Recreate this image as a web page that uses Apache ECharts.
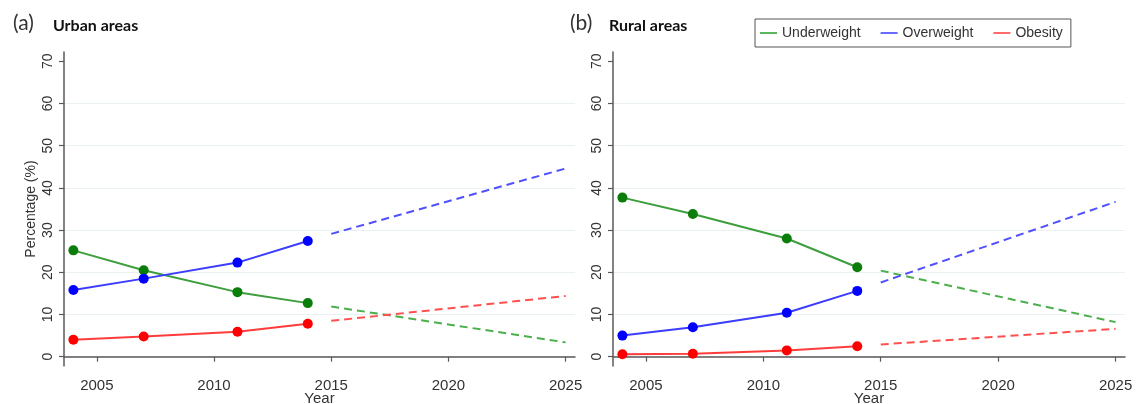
<!DOCTYPE html>
<html>
<head>
<meta charset="utf-8">
<script src="https://cdn.jsdelivr.net/npm/echarts@6/dist/echarts.min.js"></script>
<style>
  html, body { margin: 0; padding: 0; background: #fff; }
  #chart { width: 1137px; height: 404px; }
</style>
</head>
<body>
<div id="chart"></div>
<script>
// Survey rounds and projection end points
const surveyYears = [2004, 2007, 2011, 2014];
const projectionYears = [2015, 2025];

// Urban areas (%)
const urbanUnderweight = [25.2, 20.5, 15.3, 12.7];
const urbanOverweight = [15.8, 18.5, 22.3, 27.4];
const urbanObesity = [4.0, 4.8, 5.9, 7.8];
const urbanUnderweightProj = [11.9, 3.4];
const urbanOverweightProj = [29.1, 44.6];
const urbanObesityProj = [8.5, 14.4];

// Rural areas (%)
const ruralUnderweight = [37.7, 33.8, 28.0, 21.2];
const ruralOverweight = [5.0, 7.0, 10.4, 15.6];
const ruralObesity = [0.6, 0.7, 1.5, 2.5];
const ruralUnderweightProj = [20.4, 8.2];
const ruralOverweightProj = [17.6, 36.7];
const ruralObesityProj = [2.9, 6.6];

// Axis ticks
const yearTicks = [2005, 2010, 2015, 2020, 2025];
const percentTicks = [0, 10, 20, 30, 40, 50, 60, 70];
const gridLineValues = [0, 10, 20, 30, 40, 50, 60];

const categories = ['Underweight', 'Overweight', 'Obesity'];

const colors = {
  Underweight: { marker: '#0a7d0a', line: '#3c9e3c', dash: '#4caf4c', legend: '#5cb85c' },
  Overweight:  { marker: '#0000ff', line: '#3c3cff', dash: '#5050ff', legend: '#6a6aff' },
  Obesity:     { marker: '#ff0000', line: '#ff3c3c', dash: '#ff5050', legend: '#ff6a6a' }
};

const panels = [
  { observed: [urbanUnderweight, urbanOverweight, urbanObesity],
    projected: [urbanUnderweightProj, urbanOverweightProj, urbanObesityProj] },
  { observed: [ruralUnderweight, ruralOverweight, ruralObesity],
    projected: [ruralUnderweightProj, ruralOverweightProj, ruralObesityProj] }
];

const pairs = (xs, ys) => xs.map((x, i) => [x, ys[i]]);
const axisColor = '#5a5a5a';
const textColor = '#333';
const labelFont = "'Liberation Sans', Arial, sans-serif";

const series = [];
panels.forEach((panel, p) => {
  // light horizontal reference lines behind the data
  series.push({
    type: 'line', xAxisIndex: p, yAxisIndex: p, data: [], z: 0,
    silent: true,
    markLine: {
      silent: true, symbol: 'none', animation: false, z: 0,
      label: { show: false },
      lineStyle: { color: '#e9f1f2', width: 1.2, type: 'solid' },
      data: gridLineValues.map(v => ({ yAxis: v }))
    }
  });
  categories.forEach((name, k) => {
    const c = colors[name];
    series.push({
      name, type: 'line', xAxisIndex: p, yAxisIndex: p,
      data: pairs(surveyYears, panel.observed[k]),
      symbol: 'circle', symbolSize: 10,
      itemStyle: { color: c.marker },
      lineStyle: { color: c.line, width: 2 },
      animation: false, z: 3
    });
    series.push({
      name, type: 'line', xAxisIndex: p, yAxisIndex: p,
      data: pairs(projectionYears, panel.projected[k]),
      symbol: 'none',
      lineStyle: { color: c.dash, width: 2, type: [8, 5] },
      animation: false, z: 2
    });
  });
});

const makeXAxis = (gridIndex) => ({
  type: 'value', gridIndex, min: 2003.6, max: 2025.4,
  name: 'Year', nameLocation: 'middle', nameGap: 25, nameMoveOverlap: false,
  nameTextStyle: { color: textColor, fontSize: 15, fontFamily: labelFont },
  axisLine: { show: true, lineStyle: { color: axisColor, width: 1.5 } },
  axisTick: { show: true, customValues: yearTicks, length: 5, lineStyle: { color: axisColor, width: 1.2 } },
  axisLabel: { customValues: yearTicks, formatter: v => String(v), margin: 12,
               color: textColor, fontSize: 15, fontFamily: labelFont },
  splitLine: { show: false }
});

const makeYAxis = (gridIndex, withName) => ({
  type: 'value', gridIndex, min: -2.2, max: 72.2,
  name: withName ? 'Percentage (%)' : '', nameLocation: 'middle', nameGap: 26, nameMoveOverlap: false,
  nameTextStyle: { color: textColor, fontSize: 14, fontFamily: labelFont },
  axisLine: { show: true, lineStyle: { color: axisColor, width: 1.5 } },
  axisTick: { show: true, customValues: percentTicks, length: 5, lineStyle: { color: axisColor, width: 1.2 } },
  axisLabel: { customValues: percentTicks, rotate: 90, margin: 9,
               color: textColor, fontSize: 14, fontFamily: labelFont },
  splitLine: { show: false }
});

const option = {
  backgroundColor: '#fff',
  animation: false,
  title: [
    { text: '(a)', left: 8, top: 8, textStyle: { color: '#333', fontSize: 21, fontWeight: 'normal', fontFamily: 'Lato, sans-serif' } },
    { text: 'Urban areas', left: 48, top: 13, textStyle: { color: '#111', fontSize: 16, fontWeight: 'bold', fontFamily: 'Lato, sans-serif' } },
    { text: '(b)', left: 565, top: 8, textStyle: { color: '#333', fontSize: 21, fontWeight: 'normal', fontFamily: 'Lato, sans-serif' } },
    { text: 'Rural areas', left: 604, top: 13, textStyle: { color: '#111', fontSize: 16, fontWeight: 'bold', fontFamily: 'Lato, sans-serif' } }
  ],
  legend: {
    left: 755, top: 19,
    padding: [7, 8, 7, 5],
    borderColor: '#555', borderWidth: 1,
    itemWidth: 17, itemHeight: 2, itemGap: 20,
    icon: 'rect',
    textStyle: { color: textColor, fontSize: 14, fontFamily: labelFont },
    data: categories.map(name => ({ name, itemStyle: { color: colors[name].legend } }))
  },
  grid: [
    { left: 64, right: 562, top: 52, bottom: 38, outerBoundsMode: 'none', containLabel: false },
    { left: 613, right: 12, top: 52, bottom: 38, outerBoundsMode: 'none', containLabel: false }
  ],
  xAxis: [makeXAxis(0), makeXAxis(1)],
  yAxis: [makeYAxis(0, true), makeYAxis(1, false)],
  series
};

const chart = echarts.init(document.getElementById('chart'), null, { renderer: 'canvas' });
chart.setOption(option);
</script>
</body>
</html>
